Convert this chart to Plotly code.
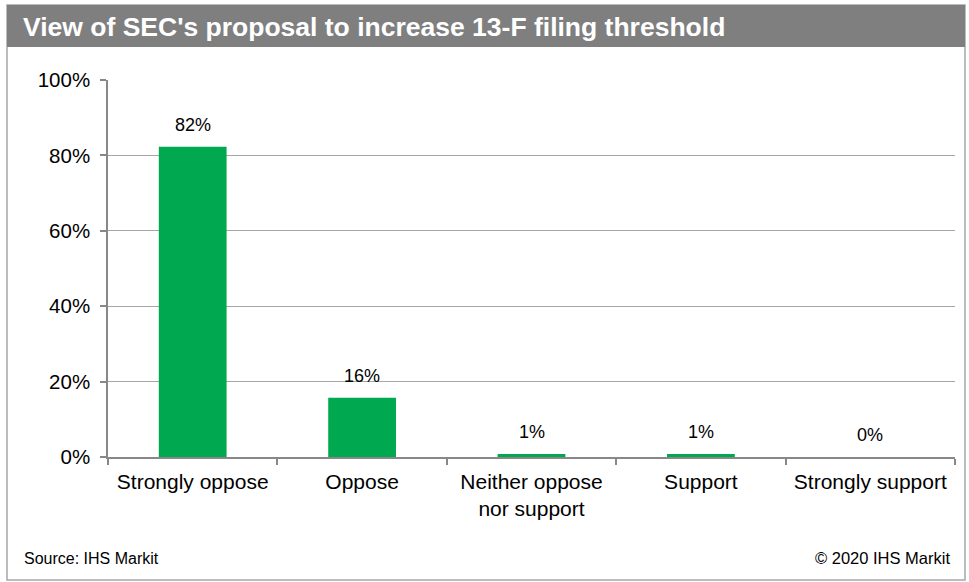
import plotly.graph_objects as go

categories = ["Strongly oppose", "Oppose", "Neither oppose<br>nor support", "Support", "Strongly support"]
values = [82.3, 15.7, 0.8, 0.8, 0.0]
value_labels = ["82%", "16%", "1%", "1%", "0%"]
y_ticks = [0, 20, 40, 60, 80, 100]
y_tick_labels = ["0%", "20%", "40%", "60%", "80%", "100%"]

W, H = 969, 582
L, R, T, B = 108, 14, 80, 125
pw, ph = W - L - R, H - T - B

def px(x):
    return (x - L) / pw

def py(y):
    return 1 - (y - T) / ph

FONT = "Liberation Sans, Arial, sans-serif"

fig = go.Figure()
fig.add_trace(go.Bar(
    x=categories, y=values,
    marker=dict(color="#00A94F", line=dict(width=0)),
    hoverinfo="skip",
))

annotations = []
for c, v, t in zip(categories, values, value_labels):
    annotations.append(dict(x=c, y=v, xref="x", yref="y", text=t, showarrow=False,
                            yanchor="bottom", yshift=10,
                            font=dict(family=FONT, size=18, color="#000000")))

annotations += [
    dict(xref="paper", yref="paper", x=px(21), y=py(27), text="<b>View of SEC's proposal to increase 13-F filing threshold</b>",
         showarrow=False, xanchor="left", yanchor="middle",
         font=dict(family=FONT, size=26.5, color="#FFFFFF")),
    dict(xref="paper", yref="paper", x=px(22), y=py(558), text="Source: IHS Markit",
         showarrow=False, xanchor="left", yanchor="middle",
         font=dict(family=FONT, size=16, color="#000000")),
    dict(xref="paper", yref="paper", x=px(952), y=py(558), text="© 2020 IHS Markit",
         showarrow=False, xanchor="right", yanchor="middle",
         font=dict(family=FONT, size=16.5, color="#000000")),
]

shapes = [
    dict(type="rect", xref="paper", yref="paper", x0=px(7), x1=px(965), y0=py(580), y1=py(5),
         line=dict(color="#A6A6A6", width=1.5), fillcolor="rgba(0,0,0,0)", layer="below"),
    dict(type="rect", xref="paper", yref="paper", x0=px(7), x1=px(965), y0=py(47), y1=py(5),
         line=dict(width=0), fillcolor="#7F7F7F", layer="below"),
]

fig.update_layout(
    width=W, height=H,
    margin=dict(l=L, r=R, t=T, b=B, pad=0),
    paper_bgcolor="#FFFFFF", plot_bgcolor="#FFFFFF",
    showlegend=False,
    bargap=0.6,
    annotations=annotations,
    shapes=shapes,
    xaxis=dict(
        type="category", showgrid=False, showline=True, linecolor="#888888", linewidth=1.5,
        ticks="outside", tickson="boundaries", ticklen=6, tickcolor="#888888", tickwidth=1.5,
        ticklabelstandoff=5,
        tickfont=dict(family=FONT, size=21, color="#000000"), fixedrange=True,
    ),
    yaxis=dict(
        range=[0, 100], tickvals=y_ticks, ticktext=y_tick_labels,
        showgrid=True, gridcolor="#A6A6A6", gridwidth=1.2,
        showline=True, linecolor="#888888", linewidth=1.5,
        ticks="outside", ticklen=6, tickcolor="#888888", tickwidth=1.5,
        ticklabelstandoff=6,
        tickfont=dict(family=FONT, size=20.5, color="#000000"), zeroline=False, fixedrange=True,
    ),
)

fig.write_html("out.html", config={"displayModeBar": False},
               post_script="document.body.style.margin='0';document.body.style.overflow='hidden';")
